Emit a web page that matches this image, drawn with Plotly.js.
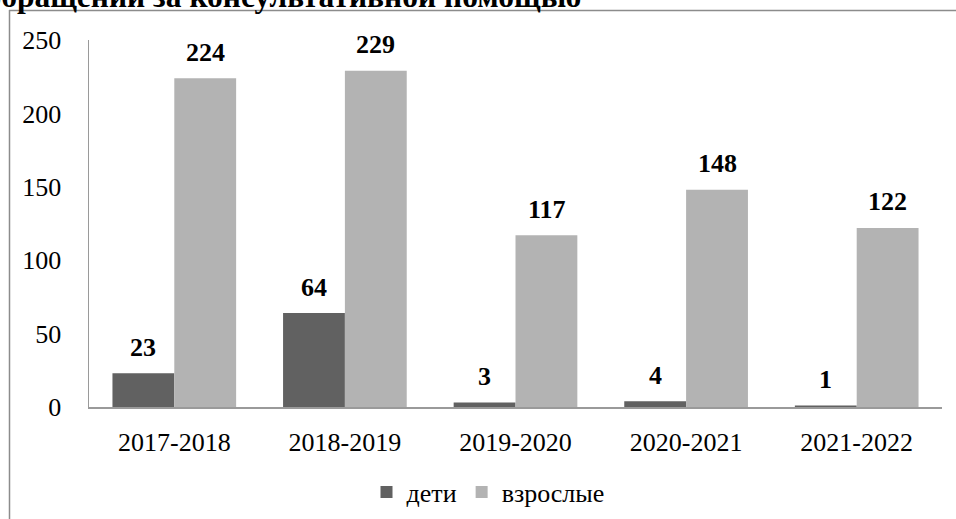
<!DOCTYPE html>
<html>
<head>
<meta charset="utf-8">
<script src="https://cdn.plot.ly/plotly-3.0.1.min.js"></script>
<style>html,body{margin:0;padding:0;background:#fff;}#chart{width:956px;height:519px;}</style>
</head>
<body>
<div id="chart"></div>
<script>
var categories = ["2017-2018", "2018-2019", "2019-2020", "2020-2021", "2021-2022"];
var children = [23, 64, 3, 4, 1];
var adults = [224, 229, 117, 148, 122];
var seriesNames = ["дети", "взрослые"];
var yTicks = [0, 50, 100, 150, 200, 250];
var titleText = "Количество обращений за консультативной помощью";

var FONT = "'Liberation Serif', 'Times New Roman', serif";

var traces = [
  {type: "bar", name: seriesNames[0], x: categories, y: children,
   marker: {color: "#616161"}, hoverinfo: "x+y"},
  {type: "bar", name: seriesNames[1], x: categories, y: adults,
   marker: {color: "#b3b3b3"}, hoverinfo: "x+y"}
];

var annotations = [];
function addLabels(vals, shift) {
  for (var i = 0; i < categories.length; i++) {
    annotations.push({
      x: categories[i], y: vals[i], xref: "x", yref: "y",
      text: "<b>" + vals[i] + "</b>", showarrow: false,
      xshift: shift, yshift: 26, yanchor: "middle",
      font: {family: FONT, size: 26, color: "#000"}
    });
  }
}
addLabels(children, -31);
addLabels(adults, 31);

annotations.push({
  xref: "paper", yref: "paper", x: (583 - 89) / 853, y: (407 - 16) / 367,
  xanchor: "right", yanchor: "bottom", showarrow: false,
  text: "<b>" + titleText + "</b>",
  font: {family: FONT, size: 31.5, color: "#000"}
});

var layout = {
  width: 956, height: 519,
  margin: {l: 89, r: 14, t: 40, b: 112, autoexpand: false},
  paper_bgcolor: "#fff", plot_bgcolor: "#fff",
  barmode: "group", bargap: 0.275, bargroupgap: 0,
  font: {family: FONT, size: 26, color: "#000"},
  xaxis: {
    showline: true, linecolor: "#9a9a9a", linewidth: 1.5,
    showgrid: false, zeroline: false, ticks: "",
    tickfont: {family: FONT, size: 26, color: "#000"},
    ticklabelstandoff: 11, fixedrange: true, automargin: false
  },
  yaxis: {
    range: [0, 250], tickvals: yTicks, ticktext: yTicks.map(String),
    showline: true, linecolor: "#9a9a9a", linewidth: 1.5,
    showgrid: false, zeroline: false, ticks: "",
    tickfont: {family: FONT, size: 26, color: "#000"},
    ticklabelstandoff: 21, fixedrange: true, automargin: false
  },
  showlegend: true,
  legend: {
    orientation: "h", x: (488 - 89) / 853, xanchor: "center",
    y: (407 - 492) / 367, yanchor: "middle",
    font: {family: FONT, size: 26, color: "#000"},
    itemwidth: 30, tracegroupgap: 0, bgcolor: "rgba(0,0,0,0)"
  },
  annotations: annotations,
  shapes: [
    {type: "line", xref: "paper", yref: "paper",
     x0: (9 - 89) / 853, x1: (956 - 89) / 853,
     y0: (407 - 10.5) / 367, y1: (407 - 10.5) / 367,
     line: {color: "#8c8c8c", width: 1.5}},
    {type: "line", xref: "paper", yref: "paper",
     x0: (9.5 - 89) / 853, x1: (9.5 - 89) / 853,
     y0: (407 - 10) / 367, y1: (407 - 519) / 367,
     line: {color: "#8c8c8c", width: 1.5}}
  ]
};

Plotly.newPlot("chart", traces, layout, {displayModeBar: false, staticPlot: true});
</script>
</body>
</html>
